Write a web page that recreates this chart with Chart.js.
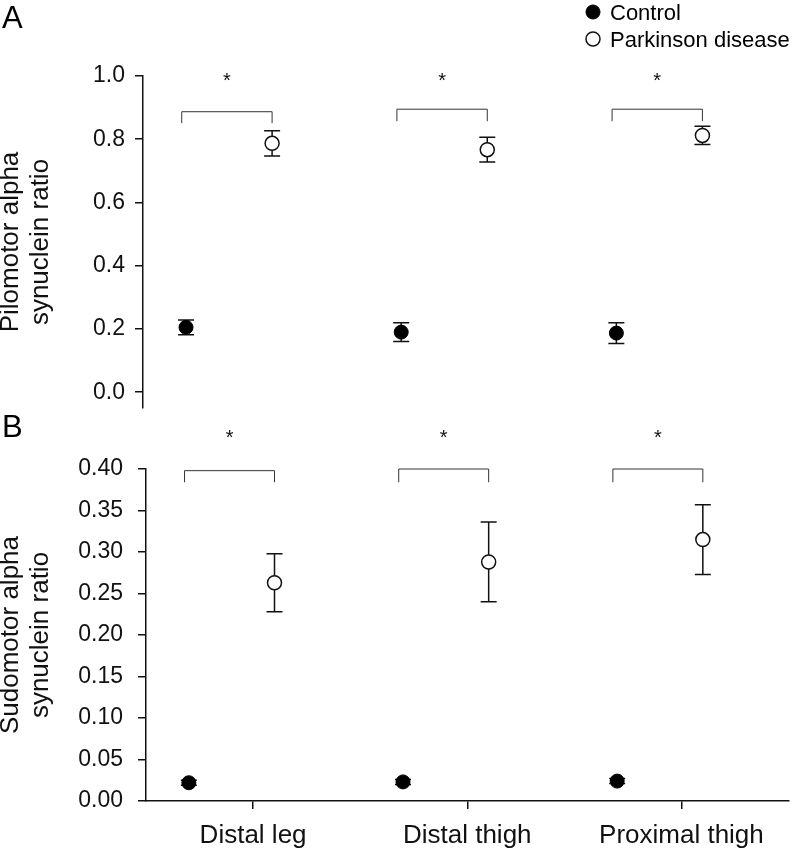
<!DOCTYPE html>
<html>
<head>
<meta charset="utf-8">
<script src="https://cdn.jsdelivr.net/npm/chart.js@4.4.1/dist/chart.umd.min.js"></script>
<style>
  html, body { margin: 0; padding: 0; background: #fff; }
  #wrap { position: relative; width: 797px; height: 852px; }
  #panelA { position: absolute; left: 0; top: 0; }
  #panelB { position: absolute; left: 0; top: 400px; }
</style>
</head>
<body>
<div id="wrap">
  <canvas id="panelA" width="797" height="420"></canvas>
  <canvas id="panelB" width="797" height="452"></canvas>
</div>
<script>
// sitios de biopsia y grupos
const categories = ['Distal leg', 'Distal thigh', 'Proximal thigh'];
const groups = ['Control', 'Parkinson disease'];

// A - pilomotor
const piloControl = [0.205, 0.190, 0.187];
const piloControlErr = [0.023, 0.030, 0.033];
const piloPD = [0.787, 0.767, 0.812];
const piloPDErr = [0.040, 0.039, 0.029];
const piloTicks = [0.0, 0.2, 0.4, 0.6, 0.8, 1.0];
const piloBracketTop = [0.887, 0.895, 0.895];
const piloBracketLeg = [0.851, 0.857, 0.857];
const piloStar = [1.0, 1.0, 1.0];

// B - sudomotor
const sudoControl = [0.022, 0.023, 0.024];
const sudoControlErr = [0.003, 0.003, 0.003];
const sudoPD = [0.263, 0.288, 0.315];
const sudoPDErr = [0.035, 0.048, 0.042];
const sudoTicks = [0.00, 0.05, 0.10, 0.15, 0.20, 0.25, 0.30, 0.35, 0.40];
const sudoBracketTop = [0.398, 0.400, 0.400];
const sudoBracketLeg = [0.384, 0.384, 0.384];
const sudoStar = [0.443, 0.443, 0.443];

const significance = ['*', '*', '*'];

const FONT = "'Liberation Sans', Arial, Helvetica, sans-serif";
const groupShift = [-0.30, 0.10];   // posicion de cada grupo dentro de la categoria
const bracketEnds = [-0.32, 0.10];

// barras de error (media +- error)
const errorBars = {
    id: 'errorBars',
    beforeDatasetsDraw(chart) {
        const {ctx, scales: {x, y}} = chart;
        ctx.save();
        ctx.strokeStyle = '#111';
        ctx.lineWidth = 1.5;
        chart.data.datasets.forEach(ds => {
            ds.data.forEach((p, i) => {
                const e = ds.errors[i];
                const px = x.getPixelForValue(p.x);
                const top = y.getPixelForValue(p.y + e);
                const bot = y.getPixelForValue(p.y - e);
                ctx.beginPath();
                ctx.moveTo(px, top); ctx.lineTo(px, bot);
                ctx.moveTo(px - 8, top); ctx.lineTo(px + 8, top);
                ctx.moveTo(px - 8, bot); ctx.lineTo(px + 8, bot);
                ctx.stroke();
            });
        });
        ctx.restore();
    }
};

// corchetes, asteriscos, letra del panel y leyenda
const decor = {
    id: 'decor',
    afterDraw(chart, args, opts) {
        const {ctx, scales: {x, y}} = chart;
        ctx.save();
        ctx.strokeStyle = '#333';
        ctx.lineWidth = 1;
        categories.forEach((c, i) => {
            const x1 = x.getPixelForValue(i + bracketEnds[0]);
            const x2 = x.getPixelForValue(i + bracketEnds[1]);
            const yt = y.getPixelForValue(opts.top[i]);
            const yl = y.getPixelForValue(opts.leg[i]);
            ctx.beginPath();
            ctx.moveTo(x1, yl); ctx.lineTo(x1, yt); ctx.lineTo(x2, yt); ctx.lineTo(x2, yl);
            ctx.stroke();
            ctx.fillStyle = '#111';
            ctx.font = '20px ' + FONT;
            ctx.textAlign = 'center';
            ctx.textBaseline = 'alphabetic';
            ctx.fillText(significance[i], (x1 + x2) / 2, y.getPixelForValue(opts.star[i]) + 11);
        });

        ctx.fillStyle = '#000';
        ctx.font = '31px ' + FONT;
        ctx.textAlign = 'left';
        ctx.fillText(opts.letter, 2, opts.letterY);

        if (opts.legend) {
            ctx.font = '22px ' + FONT;
            chart.data.datasets.forEach((ds, k) => {
                const cy = 12 + k * 27;
                ctx.beginPath();
                ctx.arc(593, cy, 7, 0, Math.PI * 2);
                ctx.fillStyle = ds.backgroundColor;
                ctx.fill();
                ctx.lineWidth = ds.borderWidth;
                ctx.strokeStyle = ds.borderColor;
                ctx.stroke();
                ctx.fillStyle = '#000';
                ctx.fillText(ds.label, 610, cy + 8);
            });
        }
        ctx.restore();
    }
};

function crearPanel(id, control, controlErr, pd, pdErr, yCfg, decorCfg) {
    const ctx = document.getElementById(id).getContext('2d');
    const puntos = vals => vals.map((v, i) => ({x: i, y: v}));
    const ctrlData = puntos(control).map(p => ({x: p.x + groupShift[0], y: p.y}));
    const pdData = puntos(pd).map(p => ({x: p.x + groupShift[1], y: p.y}));

    return new Chart(ctx, {
        type: 'scatter',
        data: {
            datasets: [{
                label: groups[0],
                data: ctrlData,
                errors: controlErr,
                backgroundColor: '#000',
                borderColor: '#000',
                borderWidth: 1,
                pointRadius: 7,
                pointHoverRadius: 7
            }, {
                label: groups[1],
                data: pdData,
                errors: pdErr,
                backgroundColor: '#fff',
                borderColor: '#111',
                borderWidth: 1.5,
                pointRadius: 7,
                pointHoverRadius: 7
            }]
        },
        options: {
            responsive: false,
            animation: false,
            devicePixelRatio: 1,
            layout: { padding: yCfg.padding },
            plugins: {
                legend: { display: false },
                tooltip: { enabled: false },
                decor: decorCfg
            },
            scales: {
                x: {
                    type: 'linear',
                    min: -0.5,
                    max: 2.5,
                    display: yCfg.showX,
                    afterBuildTicks: s => { s.ticks = categories.map((c, i) => ({value: i})); },
                    afterFit: s => { s.height = yCfg.showX ? 51 : 0; },
                    border: { display: true, color: '#111', width: 1.5 },
                    grid: { drawOnChartArea: false, tickLength: 8, color: '#111', lineWidth: 1.5 },
                    ticks: {
                        color: '#111',
                        padding: 11,
                        font: { family: FONT, size: 26 },
                        callback: v => categories[Math.round(v)]
                    }
                },
                y: {
                    min: yCfg.min,
                    max: yCfg.max,
                    afterBuildTicks: s => { s.ticks = yCfg.ticks.map(v => ({value: v})); },
                    afterFit: s => {
                        s.width = yCfg.axisWidth;
                        s.paddingTop = 0;
                        s.paddingBottom = 0;
                    },
                    border: { display: true, color: '#111', width: 1.5 },
                    grid: { drawOnChartArea: false, tickLength: 8, color: '#111', lineWidth: 1.5 },
                    ticks: {
                        color: '#111',
                        padding: yCfg.tickPad,
                        font: { family: FONT, size: 23 },
                        callback: v => v.toFixed(yCfg.decimals)
                    },
                    title: {
                        display: true,
                        text: yCfg.title,
                        color: '#111',
                        padding: 0,
                        font: { family: FONT, size: 26, lineHeight: '30px' }
                    }
                }
            }
        },
        plugins: [errorBars, decor]
    });
}

crearPanel('panelA', piloControl, piloControlErr, piloPD, piloPDErr, {
    min: -0.05, max: 1.0, ticks: piloTicks, decimals: 1,
    title: ['Pilomotor alpha', 'synuclein ratio'],
    axisWidth: 147, tickPad: 10, showX: false,
    padding: { top: 76, right: 7, bottom: 12, left: -4 }
}, {
    top: piloBracketTop, leg: piloBracketLeg, star: piloStar,
    letter: 'A', letterY: 28, legend: true
});

crearPanel('panelB', sudoControl, sudoControlErr, sudoPD, sudoPDErr, {
    min: 0, max: 0.40, ticks: sudoTicks, decimals: 2,
    title: ['Sudomotor alpha', 'synuclein ratio'],
    axisWidth: 150, tickPad: 15, showX: true,
    padding: { top: 69, right: 4, bottom: 0, left: -4 }
}, {
    top: sudoBracketTop, leg: sudoBracketLeg, star: sudoStar,
    letter: 'B', letterY: 37, legend: false
});
</script>
</body>
</html>
